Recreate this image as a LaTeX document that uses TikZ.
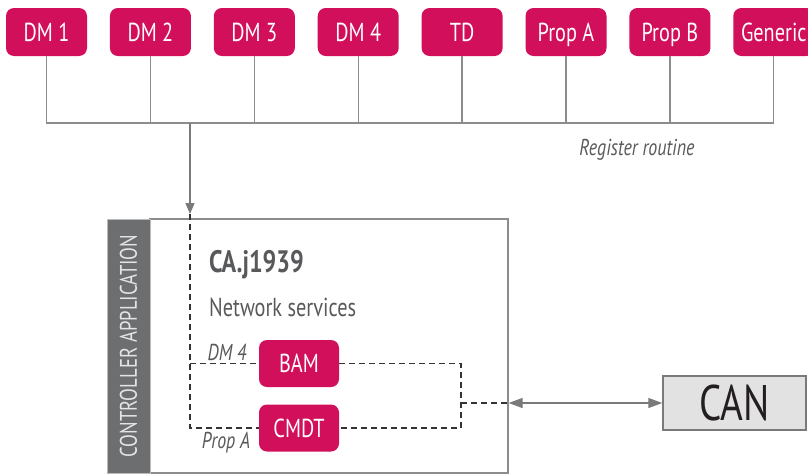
\documentclass[tikz,border=0pt]{standalone}
\usepackage{fontspec}
\setmainfont{PT Sans}[FakeStretch=0.78]
\usetikzlibrary{arrows.meta,positioning,calc}
\definecolor{brand}{HTML}{D20F5A}
\definecolor{linegray}{HTML}{8C8C8C}
\definecolor{arrowgray}{HTML}{7A7A7A}
\definecolor{ink}{HTML}{58595B}
\definecolor{dashink}{HTML}{333333}
\definecolor{stripfill}{HTML}{6D6E70}
\definecolor{striptext}{HTML}{E4E4E4}
\definecolor{canfill}{HTML}{E2E2E2}
\definecolor{canink}{HTML}{231F20}
\tikzset{
  module/.style={
    fill=brand,
    text=white,
    rounded corners=8pt,
    minimum width=81pt,
    minimum height=48pt,
    inner sep=0pt,
    text height=19pt,
    text depth=1pt,
    font=\fontsize{26}{28}\selectfont
  },
  service/.style={
    module,
    minimum width=80pt,
    minimum height=47pt
  },
  cabox/.style={
    draw=linegray,
    line width=1.3pt,
    fill=white,
    minimum width=358pt,
    minimum height=254pt
  },
  strip/.style={
    draw=linegray!60,
    line width=1pt,
    fill=stripfill,
    minimum width=43pt,
    minimum height=254pt
  },
  strip label/.style={
    rotate=90,
    text=striptext,
    font=\fontsize{24}{26}\selectfont
  },
  canbox/.style={
    draw=arrowgray,
    line width=1.5pt,
    fill=canfill,
    text=canink,
    minimum width=143pt,
    minimum height=54pt,
    inner sep=0pt,
    text height=36pt,
    text depth=1pt,
    font=\fontsize{50}{52}\selectfont
  },
  busline/.style={
    draw=linegray,
    line width=1.3pt
  },
  busarrow/.style={
    busline,
    draw=arrowgray,
    -{Triangle[length=11pt,width=9pt]}
  },
  link/.style={
    draw=arrowgray,
    line width=1.3pt,
    {Triangle[length=14pt,width=10pt]}-{Triangle[length=14pt,width=10pt]}
  },
  route/.style={
    draw=dashink,
    line width=1.1pt,
    dash pattern=on 6pt off 4pt
  },
  title/.style={
    anchor=west,
    text=ink,
    inner sep=0pt,
    font=\fontsize{31}{33}\selectfont\bfseries
  },
  subtitle/.style={
    anchor=west,
    text=ink,
    inner sep=0pt,
    font=\fontsize{26}{28}\selectfont
  },
  note/.style={
    text=ink,
    inner sep=0pt,
    font=\fontsize{23}{25}\selectfont\itshape
  }
}

\begin{document}
\begin{tikzpicture}[x=1pt, y=-1pt, node distance=22.5pt and 22.5pt]
\useasboundingbox (0,0) rectangle (808,474);

% ---------------------------------------------------------------------------
% Registered modules
% ---------------------------------------------------------------------------
\node[module] (dm1) at (46.5,32) {DM 1};
\node[module, right=of dm1] (dm2) {DM 2};
\node[module, right=of dm2] (dm3) {DM 3};
\node[module, right=of dm3] (dm4) {DM 4};
\node[module, right=of dm4] (td) {TD};
\node[module, right=of td] (propa) {Prop A};
\node[module, right=of propa] (propb) {Prop B};
\node[module, right=of propb] (generic) {Generic};

\coordinate (busy) at (0,123);
\coordinate (drop) at (190,123);
\draw[busline] (dm1.south) -- (dm1.south |- busy) -- (generic.south |- busy) -- (generic.south);
\draw[busline] (dm2.south) -- (dm2.south |- busy);
\draw[busline] (dm3.south) -- (dm3.south |- busy);
\draw[busline] (dm4.south) -- (dm4.south |- busy);
\draw[busline] (td.south) -- (td.south |- busy);
\draw[busline] (propa.south) -- (propa.south |- busy);
\draw[busline] (propb.south) -- (propb.south |- busy);

\node[note] (register) at (637,150) {Register routine};

% ---------------------------------------------------------------------------
% Controller application
% ---------------------------------------------------------------------------
\node[cabox] (ca) at (329,346) {};
\node[strip] (side) at (128.5,346) {};
\node[strip label] (sidename) at (side.center) {CONTROLLER APPLICATION};

\node[title] (caname) at (209,265) {CA.j1939};
\node[subtitle] (services) at (209,307) {Network services};

\node[service] (bam) at (299,363.5) {BAM};
\node[service] (cmdt) at (299,428) {CMDT};

\node[note] (dmfour) at (227,352) {DM 4};
\node[note] (propnote) at (226,443) {Prop A};

\coordinate (entry) at (190,214);
\coordinate (junc) at (461,403);

\draw[busarrow] (drop) -- (entry);
\draw[route] (entry) -- (entry |- cmdt) -- (cmdt.west);
\draw[route] (entry |- bam) -- (bam.west);
\draw[route] (bam.east) -- (bam.east -| junc) -- (cmdt.east -| junc) -- (cmdt.east);
\draw[route] (junc) -- (junc -| ca.east);

% ---------------------------------------------------------------------------
% Bus
% ---------------------------------------------------------------------------
\node[canbox] (can) at (734.5,403) {CAN};
\draw[link] (junc -| ca.east) -- (can.west);

\end{tikzpicture}
\end{document}
